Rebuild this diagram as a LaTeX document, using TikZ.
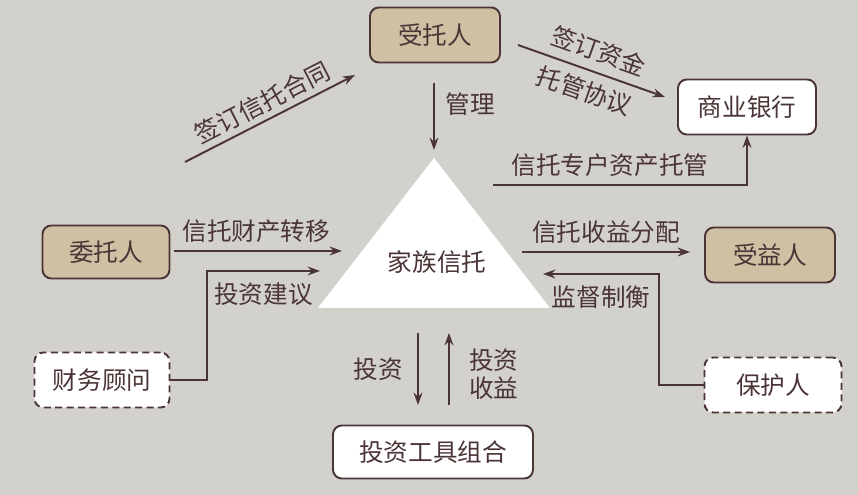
\documentclass[tikz,border=0pt]{standalone}
\usepackage{xcolor}
\usepackage{fontspec}
\usepackage{tikz}
\usetikzlibrary{arrows.meta, positioning, calc}
\newfontfamily\cjk{Noto Sans CJK SC}
\definecolor{bgcol}{HTML}{D3D1CC}
\definecolor{tancol}{HTML}{CFBFA3}
\definecolor{inkcol}{HTML}{4A3436}
\tikzset{
	partybox/.style={draw=inkcol, line width=1.1pt, rounded corners=5pt, minimum height=1.1cm, minimum width=2.6cm, fill=tancol, text=inkcol, font=\cjk\fontsize{14}{16}\selectfont},
	plainbox/.style={draw=inkcol, line width=1.1pt, rounded corners=5pt, minimum height=1.1cm, minimum width=2.7cm, fill=white, text=inkcol, font=\cjk\fontsize{14}{16}\selectfont},
	advbox/.style={plainbox, dashed, dash pattern=on 4pt off 2.5pt},
	flowarr/.style={->, draw=inkcol, line width=1.1pt},
	flowlbl/.style={text=inkcol, font=\cjk\fontsize{14}{16}\selectfont, inner sep=2pt},
}

\begin{document}
\begin{tikzpicture}[
		>={Stealth[length=7pt, width=5pt]}
		]
		\fill[bgcol] (0,0) rectangle (17.16,9.9);
		% parties
		\node[partybox] (trustee) at (8.70,9.20) {受托人};
		\node[plainbox, minimum width=2.76cm] (bank) at (14.94,7.76) {商业银行};
		\node[partybox, minimum width=2.54cm, minimum height=1.06cm] (settlor) at (2.12,4.86) {委托人};
		\node[partybox] (benef) at (15.40,4.80) {受益人};
		\node[advbox] (advisor) at (2.04,2.30) {财务顾问};
		\node[advbox, minimum width=2.74cm] (protector) at (15.46,2.20) {保护人};
		\node[plainbox, minimum width=4cm, minimum height=1.06cm] (tools) at (8.66,0.86) {投资工具组合};
		% family trust triangle
		\coordinate (apex) at (8.68,6.74);
		\coordinate (baseL) at (6.36,3.74);
		\coordinate (baseR) at (11.00,3.74);
		\fill[white] (apex) -- (baseL) -- (baseR) -- cycle;
		\node[flowlbl] (trust) at (8.74,4.66) {家族信托};
		% connector ends
		\coordinate (c1s) at (3.70,6.66);
		\coordinate (c1e) at (7.10,8.40);
		\coordinate (c2s) at (10.36,9.00);
		\coordinate (c2e) at (13.30,7.96);
		\coordinate (mgs) at (8.68,8.24);
		\coordinate (mge) at (8.68,6.90);
		\coordinate (cus) at (9.86,6.20);
		\coordinate (tre) at (6.84,4.88);
		\coordinate (adv) at (4.14,4.48);
		\coordinate (ade) at (6.40,4.48);
		\coordinate (dis) at (10.44,4.86);
		\coordinate (sup) at (13.18,4.42);
		\coordinate (sue) at (10.86,4.42);
		\coordinate (ivs) at (8.36,3.24);
		\coordinate (ive) at (8.36,1.80);
		\coordinate (rts) at (8.98,1.80);
		\coordinate (rte) at (8.98,3.24);
		% connectors
		\draw[flowarr] (c1s) -- (c1e)
			node[midway, above=1pt, sloped, flowlbl] {签订信托合同};
		\draw[flowarr] (c2s) -- (c2e)
			node[midway, above=3pt, sloped, flowlbl] {签订资金}
			node[midway, below=3pt, sloped, flowlbl] {托管协议};
		\draw[flowarr] (mgs) -- (mge)
			node[midway, right=4pt, flowlbl, yshift=7pt] {管理};
		\draw[flowarr] (cus) -| (bank.south)
			node[pos=0.23, above=2pt, flowlbl] {信托专户资产托管};
		\draw[flowarr, shorten <=2pt] (settlor.east |- tre) -- (tre)
			node[midway, above=2pt, flowlbl] {信托财产转移};
		\draw[flowarr] (advisor.east) -| (adv) -- (ade)
			node[midway, below=4pt, flowlbl] {投资建议};
		\draw[flowarr] (dis) -- ($(benef.west |- dis)+(-0.28,0)$)
			node[midway, above=2pt, flowlbl] {信托收益分配};
		\draw[flowarr] (protector.west) -| (sup) -- (sue)
			node[midway, below=4pt, flowlbl] {监督制衡};
		\draw[flowarr] (ivs) -- (ive)
			node[midway, left=6pt, flowlbl] {投资};
		\draw[flowarr] (rts) -- (rte)
			node[midway, right=9pt, flowlbl, align=center, yshift=-3pt] {投资\\收益};
	\end{tikzpicture}
\end{document}
